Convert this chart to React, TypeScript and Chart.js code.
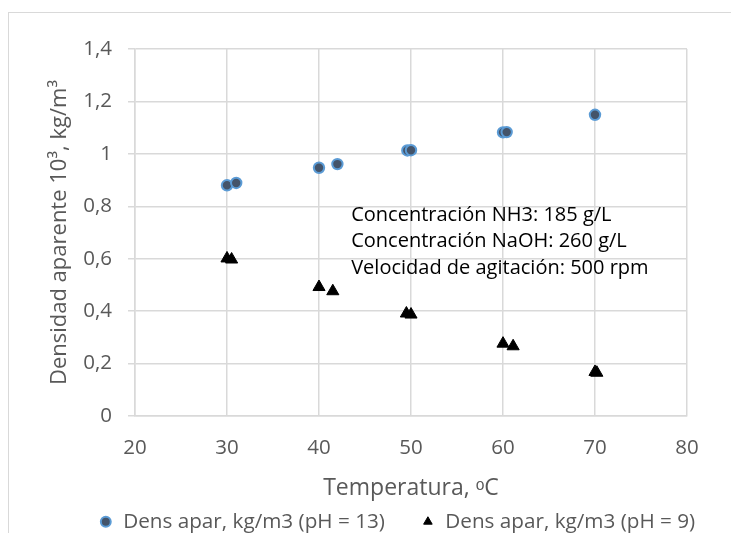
import { useEffect, useRef } from "react";
import { Chart, registerables } from "chart.js";

Chart.register(...registerables);

// ---- data ----
const xPH13 = [30, 31, 40, 42, 49.6, 50, 60, 60.4, 70];
const yPH13 = [0.88, 0.889, 0.947, 0.961, 1.013, 1.014, 1.082, 1.083, 1.149];
const xPH9 = [30, 30.5, 40, 41.5, 49.5, 50, 60, 61.1, 70, 70.2];
const yPH9 = [0.601, 0.597, 0.492, 0.476, 0.391, 0.387, 0.276, 0.266, 0.168, 0.165];
const seriesLabels = ["Dens apar, kg/m3 (pH = 13)", "Dens apar, kg/m3 (pH = 9)"];
const xTickLabels = ["20", "30", "40", "50", "60", "70", "80"];
const yTickLabels = ["0", "0,2", "0,4", "0,6", "0,8", "1", "1,2", "1,4"];
const xTitle = "Temperatura, ᵒC";
const yTitle = "Densidad aparente 10³, kg/m³";
const noteLines = [
  "Concentración NH3: 185 g/L",
  "Concentración NaOH: 260 g/L",
  "Velocidad de agitación: 500 rpm",
];
const noteX = 43.5;
const noteY = 0.766;

// ---- style ----
const FONT = "'Open Sans', sans-serif";
const GRID = "#d9d9d9";
const TXT = "#595959";
const TICK_FONT = 20.5;
const LEG_FONT = 20.7;
const LEG_PAD = 36;
const LEG_CENTER = 508.7;
const AXIS_BOTTOM = 490;
const CANVAS_W = 776;
const CANVAS_H = Math.round(AXIS_BOTTOM + LEG_FONT + LEG_PAD + 10);

const notePlugin = {
  id: "note",
  afterDatasetsDraw(chart: any) {
    const { ctx, scales } = chart;
    const px = scales.x.getPixelForValue(noteX);
    const py = scales.y.getPixelForValue(noteY);
    ctx.save();
    ctx.font = `20px ${FONT}`;
    ctx.fillStyle = "#000000";
    ctx.textAlign = "left";
    ctx.textBaseline = "middle";
    noteLines.forEach((t, i) => ctx.fillText(t, px, py + i * 26.5));
    ctx.restore();
  },
};

const legendShift = {
  id: "legendShift",
  afterLayout(chart: any) {
    const lg = chart.legend;
    if (!lg) return;
    const h = lg.height;
    lg.top = LEG_CENTER - LEG_PAD - LEG_FONT / 2;
    lg.bottom = lg.top + h;
  },
};

export default function App() {
  const ref = useRef<HTMLCanvasElement | null>(null);
  useEffect(() => {
    if (!ref.current) return;
    const chart = new Chart(ref.current, {
      type: "scatter",
      data: {
        datasets: [
          {
            label: seriesLabels[0],
            data: xPH13.map((x, i) => ({ x, y: yPH13[i] })),
            pointStyle: "circle",
            pointRadius: 5.2,
            backgroundColor: "#44546A",
            borderColor: "#5B9BD5",
            borderWidth: 2,
          },
          {
            label: seriesLabels[1],
            data: xPH9.map((x, i) => ({ x, y: yPH9[i] })),
            pointStyle: "triangle",
            pointRadius: 7,
            backgroundColor: "#000000",
            borderColor: "#000000",
            borderWidth: 1,
          },
        ],
      },
      options: {
        animation: false,
        responsive: false,
        devicePixelRatio: 1,
        layout: { padding: { left: 0, right: 0, top: 36, bottom: 0 } },
        plugins: {
          tooltip: { enabled: false },
          legend: {
            position: "bottom",
            labels: {
              usePointStyle: true,
              boxWidth: 14,
              boxHeight: 7,
              padding: LEG_PAD,
              color: TXT,
              font: { family: FONT, size: LEG_FONT },
            },
          },
        },
        scales: {
          x: {
            type: "linear",
            min: 20,
            max: 80,
            afterFit: (s: any) => {
              s.height = 87.3;
              s.paddingRight = CANVAS_W - 678;
            },
            ticks: {
              stepSize: 10,
              padding: 19.5,
              color: TXT,
              font: { family: FONT, size: TICK_FONT },
              callback: (_v: any, i: number) => xTickLabels[i],
            },
            grid: { color: GRID, lineWidth: 1.5, drawTicks: false },
            border: { color: GRID, width: 1.5 },
            title: {
              display: true,
              text: xTitle,
              color: TXT,
              font: { family: FONT, size: 23 },
              padding: { top: 0, bottom: 1.2 },
            },
          },
          y: {
            type: "linear",
            min: 0,
            max: 1.4,
            afterFit: (s: any) => {
              s.width = 126;
            },
            ticks: {
              stepSize: 0.2,
              padding: 16,
              color: TXT,
              font: { family: FONT, size: TICK_FONT },
              callback: (_v: any, i: number) => yTickLabels[i],
            },
            grid: { color: GRID, lineWidth: 1.5, drawTicks: true, tickLength: 7 },
            border: { color: GRID, width: 1.5 },
            title: {
              display: true,
              text: yTitle,
              color: TXT,
              font: { family: FONT, size: 22 },
              padding: { top: 37.8, bottom: 0 },
            },
          },
        },
      },
      plugins: [notePlugin, legendShift],
    });
    return () => chart.destroy();
  }, []);

  return (
    <div style={{ paddingTop: 4 }}>
      <div
        style={{
          width: 723,
          height: 1,
          background: GRID,
          boxShadow: `8px 0 0 0 ${GRID}`,
        }}
      />
      <div
        style={{
          width: 722,
          height: 520,
          overflow: "hidden",
          borderLeft: `1px solid ${GRID}`,
        }}
      >
        <canvas ref={ref} width={CANVAS_W} height={CANVAS_H} style={{ display: "block" }} />
      </div>
    </div>
  );
}
